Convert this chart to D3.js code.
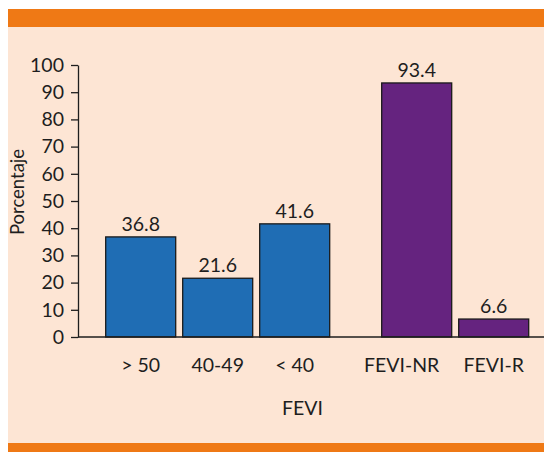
<!DOCTYPE html>
<html>
<head>
<meta charset="utf-8">
<script src="https://cdn.jsdelivr.net/npm/d3@7"></script>
<style>
  html, body { margin: 0; padding: 0; background: #ffffff; }
  svg { display: block; }
  text { font-family: Lato, "Open Sans", sans-serif; fill: #1e1e1e; }
</style>
</head>
<body>
<svg id="chart" width="544" height="452"></svg>
<script>
// Distribution of patients by ejection fraction (FEVI)
const categories = ["> 50", "40-49", "< 40", "FEVI-NR", "FEVI-R"];
const values = [36.8, 21.6, 41.6, 93.4, 6.6];
const groups = [0, 0, 0, 1, 1];
const groupColors = ["#1f6db4", "#65237f"];
const yTicks = [0, 10, 20, 30, 40, 50, 60, 70, 80, 90, 100];
const yTitle = "Porcentaje";
const xTitle = "FEVI";

const svg = d3.select("#chart");
const W = 544, H = 452;
const fs = 19.5;

// Frame: peach panel with orange rules top and bottom
svg.append("rect").attr("x", 8).attr("y", 9).attr("width", W - 8).attr("height", H - 9).attr("fill", "#fde5d4");
svg.append("rect").attr("x", 8).attr("y", 9).attr("width", W - 8).attr("height", 18).attr("fill", "#ef7915");
svg.append("rect").attr("x", 8).attr("y", 443).attr("width", W - 8).attr("height", 9).attr("fill", "#ef7915");

const axisX = 78;
const groupGap = 45;
const labelShift = { "FEVI-NR": -15 };

const y = d3.scaleLinear().domain([0, 100]).range([337, 65]);
const x = d3.scaleBand().domain(categories).range([105.7, 483.7]).paddingInner(7 / 77).paddingOuter(0);
const xPos = (d, i) => x(d) + groups[i] * groupGap;

// Y axis
const yAxis = svg.append("g")
  .attr("transform", `translate(${axisX},0)`)
  .call(d3.axisLeft(y).tickValues(yTicks).tickSize(7).tickSizeOuter(0).tickPadding(7));
yAxis.select(".domain").attr("stroke", "#1e1e1e").attr("stroke-width", 1.3);
yAxis.selectAll(".tick line").attr("stroke", "#1e1e1e").attr("stroke-width", 1.3);
yAxis.selectAll(".tick text")
  .attr("font-size", fs)
  .attr("font-family", "Lato, 'Open Sans', sans-serif")
  .attr("fill", "#1e1e1e");

// Bars
svg.append("g").selectAll("rect")
  .data(categories)
  .join("rect")
  .attr("x", (d, i) => xPos(d, i))
  .attr("y", (d, i) => y(values[i]))
  .attr("width", x.bandwidth())
  .attr("height", (d, i) => y(0) - y(values[i]))
  .attr("fill", (d, i) => groupColors[groups[i]])
  .attr("stroke", "#1a1a1a")
  .attr("stroke-width", 1.3);

// X baseline
svg.append("line")
  .attr("x1", axisX).attr("x2", W)
  .attr("y1", y(0)).attr("y2", y(0))
  .attr("stroke", "#1e1e1e").attr("stroke-width", 1.3);

// Value labels
svg.append("g").selectAll("text")
  .data(categories)
  .join("text")
  .attr("x", (d, i) => xPos(d, i) + x.bandwidth() / 2)
  .attr("y", (d, i) => y(values[i]) - 6)
  .attr("text-anchor", "middle")
  .attr("font-size", fs)
  .text((d, i) => values[i].toFixed(1));

// Category labels
svg.append("g").selectAll("text")
  .data(categories)
  .join("text")
  .attr("x", (d, i) => xPos(d, i) + x.bandwidth() / 2 + (labelShift[d] || 0))
  .attr("y", 372)
  .attr("text-anchor", "middle")
  .attr("font-size", fs)
  .text(d => d);

// Axis titles
svg.append("text")
  .attr("x", 302.5).attr("y", 415)
  .attr("text-anchor", "middle")
  .attr("font-size", fs)
  .text(xTitle);

svg.append("text")
  .attr("transform", "translate(24,192) rotate(-90)")
  .attr("text-anchor", "middle")
  .attr("font-size", 18.5)
  .text(yTitle);
</script>
</body>
</html>
